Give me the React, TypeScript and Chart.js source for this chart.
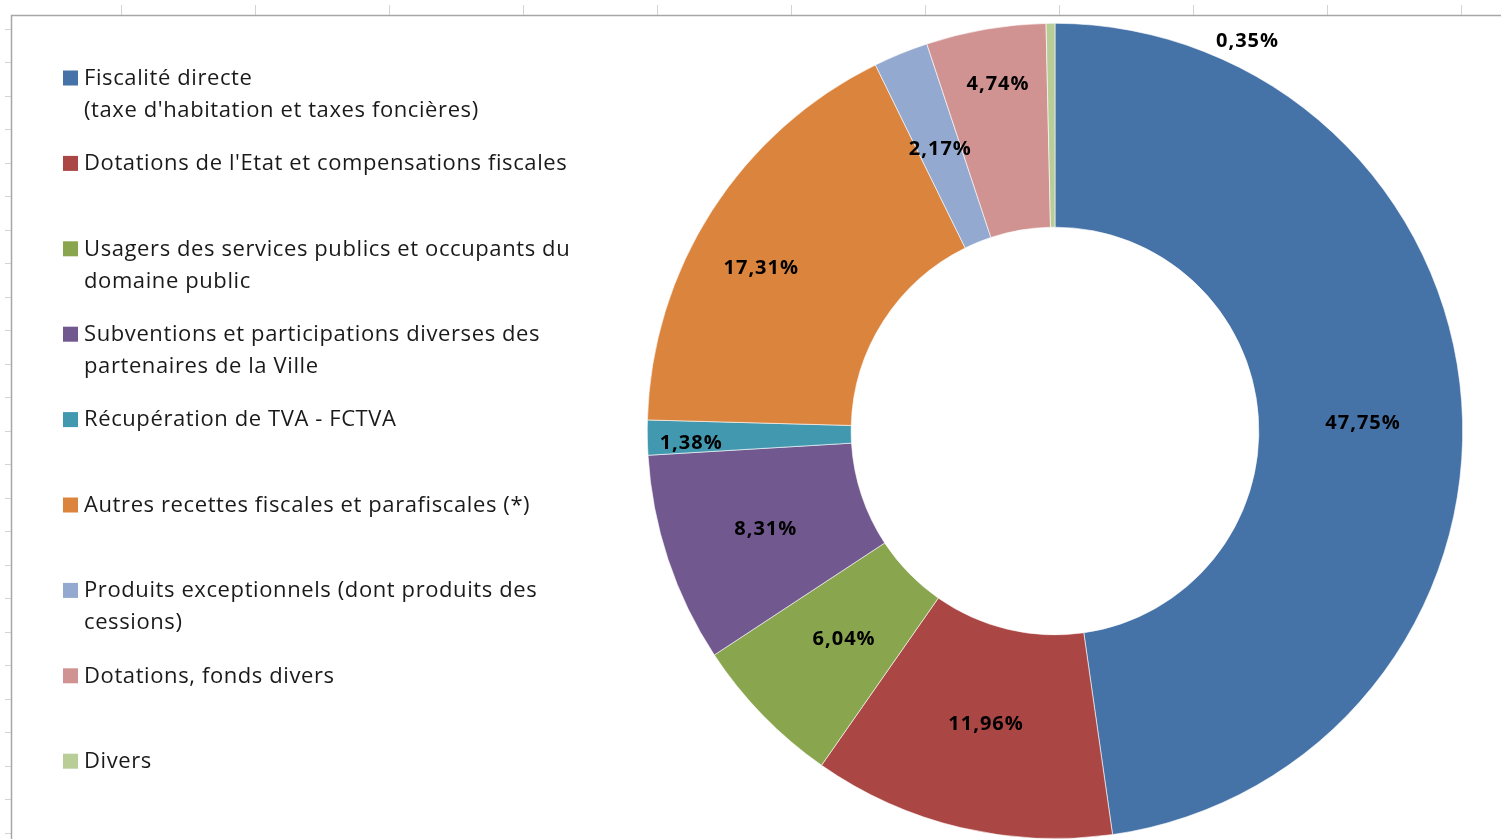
import React, { useEffect, useRef } from "react";
import { Chart, registerables } from "chart.js";

Chart.register(...registerables);

const categories: string[] = [
  "Fiscalité directe\n(taxe d'habitation et taxes foncières)",
  "Dotations de l'Etat et compensations fiscales",
  "Usagers des services publics et occupants du\ndomaine public",
  "Subventions et participations diverses des\npartenaires de la Ville",
  "Récupération de TVA - FCTVA",
  "Autres recettes fiscales et parafiscales (*)",
  "Produits exceptionnels (dont produits des\ncessions)",
  "Dotations, fonds divers",
  "Divers",
];

const values: number[] = [47.75, 11.96, 6.04, 8.31, 1.38, 17.31, 2.17, 4.74, 0.35];

const colors: string[] = [
  "#4572A7",
  "#AA4643",
  "#89A54E",
  "#71588F",
  "#4198AF",
  "#DB843D",
  "#93A9CF",
  "#D19392",
  "#B9CD96",
];

// radial position of each value label inside the ring (0 = inner edge, 1 = outer edge)
const labelRadial: number[] = [0.51, 0.48, 0.45, 0.5, 0.79, 0.66, 0.5, 0.73, 1.0];
// extra pixel shift for label placement
const labelShift: [number, number][] = [[0, 14], [0, 0], [0, 2], [0, 2], [0, 6], [-10, 20], [0, 1], [2, 1], [196, 18]];

const FONT = "'Open Sans', Lato, sans-serif";

const framePlugin = {
  id: "frame",
  beforeDraw(chart: any) {
    const ctx = chart.ctx as CanvasRenderingContext2D;
    const w = chart.width;
    const h = chart.height;
    ctx.save();
    ctx.fillStyle = "#ffffff";
    ctx.fillRect(0, 0, w, h);
    // sheet column ticks
    ctx.strokeStyle = "#d4d4d4";
    ctx.lineWidth = 1;
    for (let x = 121.5; x < w; x += 134) {
      ctx.beginPath();
      ctx.moveTo(x, 5);
      ctx.lineTo(x, 15);
      ctx.stroke();
    }
    for (let y = 28.5; y < h; y += 33.5) {
      ctx.beginPath();
      ctx.moveTo(5, Math.round(y) + 0.5);
      ctx.lineTo(11, Math.round(y) + 0.5);
      ctx.stroke();
    }
    // chart frame
    ctx.strokeStyle = "#a6a6a6";
    ctx.lineWidth = 1.5;
    ctx.beginPath();
    ctx.moveTo(11.5, h);
    ctx.lineTo(11.5, 15.5);
    ctx.lineTo(w, 15.5);
    ctx.stroke();
    ctx.restore();
  },
};

const legendPlugin = {
  id: "customLegend",
  afterDraw(chart: any) {
    const ctx = chart.ctx as any;
    ctx.save();
    ctx.font = `22px ${FONT}`;
    ctx.letterSpacing = "0.6px";
    ctx.textBaseline = "middle";
    ctx.textAlign = "left";
    const startY = 78.5;
    const step = 85.4;
    const lineH = 32;
    categories.forEach((cat, i) => {
      const y = startY + i * step;
      ctx.fillStyle = colors[i];
      ctx.fillRect(63, y - 8, 15, 15);
      ctx.fillStyle = "#1a1a1a";
      cat.split("\n").forEach((line, j) => {
        ctx.fillText(line, 84, y + j * lineH);
      });
    });
    ctx.restore();
  },
};

const valueLabelPlugin = {
  id: "valueLabels",
  afterDatasetsDraw(chart: any) {
    const ctx = chart.ctx as any;
    const meta = chart.getDatasetMeta(0);
    ctx.save();
    ctx.font = `bold 20px ${FONT}`;
    ctx.letterSpacing = "1px";
    ctx.fillStyle = "#000000";
    ctx.textAlign = "center";
    ctx.textBaseline = "middle";
    meta.data.forEach((arc: any, i: number) => {
      const p = arc.getProps(["x", "y", "startAngle", "endAngle", "innerRadius", "outerRadius"], true);
      const mid = (p.startAngle + p.endAngle) / 2;
      const r = p.innerRadius + labelRadial[i] * (p.outerRadius - p.innerRadius);
      const x = p.x + Math.cos(mid) * r + labelShift[i][0] + 1;
      const y = p.y + Math.sin(mid) * r + labelShift[i][1];
      const txt = values[i].toFixed(2).replace(".", ",") + "%";
      ctx.fillText(txt, x, y);
    });
    ctx.restore();
  },
};

export default function App() {
  const ref = useRef<HTMLCanvasElement | null>(null);
  useEffect(() => {
    document.body.style.margin = "0";
    if (!ref.current) return;
    const chart = new Chart(ref.current, {
      type: "doughnut",
      data: {
        labels: categories.map((c) => c.replace("\n", " ")),
        datasets: [
          {
            data: values,
            backgroundColor: colors,
            borderColor: "#ffffff",
            borderWidth: 0.6,
          },
        ],
      },
      options: {
        responsive: false,
        animation: false,
        cutout: "50%",
        layout: { padding: { left: 647, right: 38, top: 23, bottom: 0 } },
        plugins: {
          legend: { display: false },
          tooltip: { enabled: false },
        },
      },
      plugins: [framePlugin, legendPlugin, valueLabelPlugin],
    });
    return () => chart.destroy();
  }, []);
  return (
    <div style={{ width: 1501, height: 839, overflow: "hidden" }}>
      <canvas ref={ref} width={1501} height={839} style={{ display: "block" }} />
    </div>
  );
}
